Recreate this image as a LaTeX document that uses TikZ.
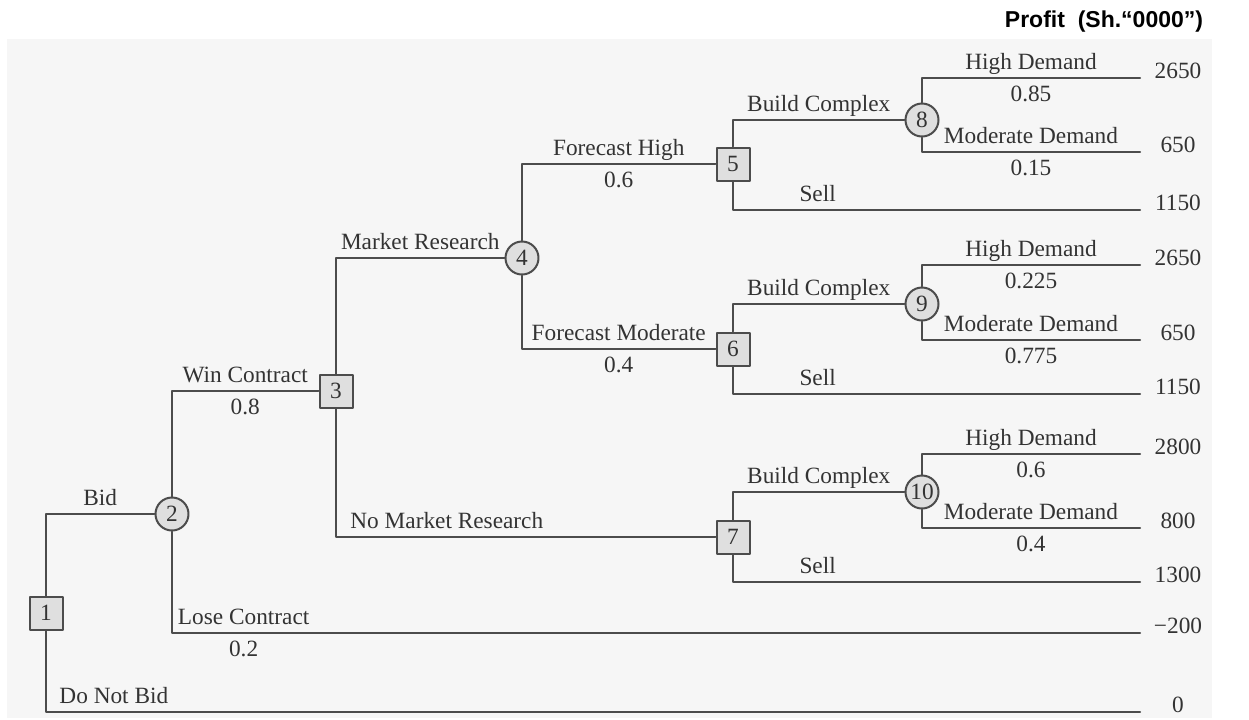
\documentclass[tikz,border=0pt]{standalone}
\usepackage{fontspec}
\setmainfont{Liberation Serif}
\setsansfont{Liberation Sans}
\usepackage{tikz}
\usetikzlibrary{positioning}
\definecolor{wwwwww}{rgb}{0.3,0.3,0.3}
\definecolor{qqqqqq}{rgb}{0.2,0.2,0.2}
\definecolor{fgfgfg}{rgb}{0.965,0.965,0.965}
\definecolor{dcdcdc}{rgb}{0.875,0.875,0.875}
\tikzset{
  dec/.style={draw=wwwwww,line width=1pt,fill=dcdcdc,minimum size=16.5pt,inner sep=0pt,text=qqqqqq},
  chance/.style={circle,draw=wwwwww,line width=1pt,fill=dcdcdc,minimum size=16.5pt,inner sep=0pt,text=qqqqqq},
  lab/.style={above=3pt,inner sep=1pt,text depth=0pt,text=qqqqqq},
  prob/.style={below=2.5pt,inner sep=1pt,text=qqqqqq},
  val/.style={anchor=base,inner sep=0pt,text=qqqqqq},
  branch/.style={draw=wwwwww,line width=1pt}
}

\begin{document}
\begin{tikzpicture}[line cap=round,line join=round,x=0.5pt,y=-0.5pt,font=\fontsize{11.65}{14}\selectfont]
\useasboundingbox (0,0) rectangle (1249,719);
\fill [fgfgfg] (7,39) rectangle (1212,718);
\node [font=\sffamily\bfseries\fontsize{11.5}{14}\selectfont] (profit) at (1104,22) {Profit~~(Sh.“0000”)};
% decision (square) and chance (circle) nodes
\node [dec] (n1) at (46,613) {1};
\node [chance] (n2) at (172,514) {2};
\node [dec] (n3) at (336,391) {3};
\node [chance] (n4) at (522,258) {4};
\node [dec] (n5) at (733,164) {5};
\node [dec] (n6) at (733,349) {6};
\node [dec] (n7) at (733,537) {7};
\node [chance] (n8) at (922,120) {8};
\node [chance] (n9) at (922,304) {9};
\node [chance] (n10) at (922,492) {10};
% ends of the branches
\coordinate (e8h) at (1140,78);
\coordinate (e8m) at (1140,152);
\coordinate (e5) at (1140,210);
\coordinate (e9h) at (1140,265);
\coordinate (e9m) at (1140,340);
\coordinate (e6) at (1140,394);
\coordinate (e10h) at (1140,454);
\coordinate (e10m) at (1140,528);
\coordinate (e7) at (1140,582);
\coordinate (e2) at (1140,633);
\coordinate (e1) at (1140,712);
% branches
\draw [branch] (n1.north) |- (n2.west) node [lab,pos=0.75] {Bid};
\draw [branch] (n1.south) |- (e1) node [lab,pos=0.531] {Do Not Bid};
\draw [branch] (n2.north) |- (n3.west) node [lab,pos=0.75] {Win Contract} node [prob,pos=0.75] {0.8};
\draw [branch] (n2.south) |- (e2) node [lab,pos=0.537] {Lose Contract} node [prob,pos=0.537] {0.2};
\draw [branch] (n3.north) |- (n4.west) node [lab,pos=0.75] {Market Research};
\draw [branch] (n3.south) |- (n7.west) node [lab,pos=0.646] {No Market Research};
\draw [branch] (n4.north) |- (n5.west) node [lab,pos=0.75] {Forecast High} node [prob,pos=0.75] {0.6};
\draw [branch] (n4.south) |- (n6.west) node [lab,pos=0.75] {Forecast Moderate} node [prob,pos=0.75] {0.4};
\draw [branch] (n5.north) |- (n8.west) node [lab,pos=0.75] {Build Complex};
\draw [branch] (n5.south) |- (e5) node [lab,pos=0.604] {Sell};
\draw [branch] (n6.north) |- (n9.west) node [lab,pos=0.75] {Build Complex};
\draw [branch] (n6.south) |- (e6) node [lab,pos=0.604] {Sell};
\draw [branch] (n7.north) |- (n10.west) node [lab,pos=0.75] {Build Complex};
\draw [branch] (n7.south) |- (e7) node [lab,pos=0.604] {Sell};
\draw [branch] (n8.north) |- (e8h) node [lab,pos=0.75] {High Demand} node [prob,pos=0.75] {0.85};
\draw [branch] (n8.south) |- (e8m) node [lab,pos=0.75] {Moderate Demand} node [prob,pos=0.75] {0.15};
\draw [branch] (n9.north) |- (e9h) node [lab,pos=0.75] {High Demand} node [prob,pos=0.75] {0.225};
\draw [branch] (n9.south) |- (e9m) node [lab,pos=0.75] {Moderate Demand} node [prob,pos=0.75] {0.775};
\draw [branch] (n10.north) |- (e10h) node [lab,pos=0.75] {High Demand} node [prob,pos=0.75] {0.6};
\draw [branch] (n10.south) |- (e10m) node [lab,pos=0.75] {Moderate Demand} node [prob,pos=0.75] {0.4};
% profits
\node [val] (v8h) at ([xshift=19pt]e8h) {2650};
\node [val] (v8m) at ([xshift=19pt]e8m) {650};
\node [val] (v5) at ([xshift=19pt]e5) {1150};
\node [val] (v9h) at ([xshift=19pt]e9h) {2650};
\node [val] (v9m) at ([xshift=19pt]e9m) {650};
\node [val] (v6) at ([xshift=19pt]e6) {1150};
\node [val] (v10h) at ([xshift=19pt]e10h) {2800};
\node [val] (v10m) at ([xshift=19pt]e10m) {800};
\node [val] (v7) at ([xshift=19pt]e7) {1300};
\node [val] (v2) at ([xshift=19pt]e2) {−200};
\node [val] (v1) at ([xshift=19pt]e1) {0};
\end{tikzpicture}
\end{document}
